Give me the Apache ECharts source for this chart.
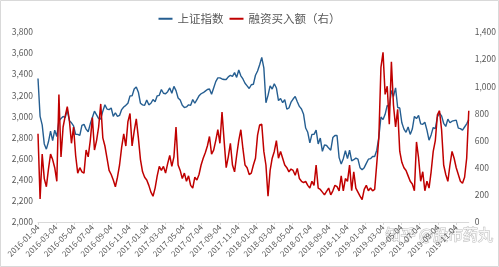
<!DOCTYPE html>
<html>
<head>
<meta charset="utf-8">
<script src="https://cdn.jsdelivr.net/npm/echarts@6/dist/echarts.min.js"></script>
<style>
  html, body { margin: 0; padding: 0; background: #fff; }
  #chart { width: 499px; height: 267px; }
</style>
</head>
<body>
<div id="chart"></div>
<script>
  // weekly samples, first week starts 2016-01-04
  var firstWeek = '2016-01-04';

  // 上证指数 (left axis)
  var shIndex = [
    3360, 3000, 2920, 2740, 2690, 2760, 2860, 2770, 2870, 2810,
    2960, 2980, 3000, 2990, 3060, 2960, 2940, 2910, 2830, 2830,
    2820, 2915, 2925, 2880, 2855, 2930, 2990, 3050, 3015, 2980,
    2975, 3050, 3110, 3070, 3065, 3080, 3000, 3035, 3000, 3010,
    3065, 3090, 3105, 3125, 3195, 3195, 3260, 3280, 3230, 3125,
    3110, 3105,
    3155, 3110, 3125, 3160, 3140, 3195, 3200, 3255, 3220, 3215,
    3235, 3270, 3220, 3285, 3245, 3175, 3155, 3105, 3085, 3090,
    3110, 3105, 3160, 3125, 3160, 3195, 3215, 3225, 3240, 3255,
    3260, 3210, 3270, 3330, 3365, 3365, 3355, 3350, 3350, 3375,
    3390, 3380, 3415, 3370, 3440, 3385, 3355, 3315, 3290, 3265,
    3300, 3305,
    3390, 3430, 3490, 3560, 3460, 3130, 3200, 3290, 3260, 3310,
    3270, 3150, 3170, 3130, 3160, 3070, 3080, 3135, 3165, 3190,
    3140, 3095, 3070, 3020, 2890, 2850, 2750, 2830, 2830, 2870,
    2740, 2795, 2670, 2730, 2725, 2700, 2680, 2800, 2820, 2820,
    2610, 2550, 2600, 2675, 2600, 2680, 2580, 2590, 2605, 2595,
    2515, 2495,
    2515, 2555, 2595, 2600, 2620, 2620, 2680, 2805, 2995, 2970,
    3020, 3105, 3090, 3245, 3190, 3270, 3085, 3080, 2940, 2880,
    2850, 2900, 2830, 2880, 3000, 2980, 3010, 2930, 2925, 2945,
    2870, 2775, 2825, 2895, 2885, 2995, 3030, 3005, 2935, 2905,
    2975, 2940, 2955, 2960, 2965, 2890, 2885, 2870, 2900, 2930,
    2970
  ];

  // 融资买入额 (right axis)
  var marginBuy = [
    650, 170, 500, 320, 260, 390, 500, 460, 400, 300,
    940, 480, 700, 780, 850, 750, 580, 700, 490, 360,
    400, 370, 360, 530, 480, 600, 770, 530, 600, 700,
    870, 620, 560, 470, 380, 350, 310, 260, 330, 420,
    550, 650, 560, 740, 800, 560, 670, 760, 620, 460,
    370, 330,
    310, 270, 220, 190, 250, 340, 410, 380, 410, 360,
    430, 490, 410, 480, 700, 420, 380, 320, 360, 300,
    340, 270, 250, 330, 310, 350, 420, 470, 510, 560,
    630, 500, 530, 600, 680, 580, 810, 600, 400, 480,
    580, 420, 370, 490, 600, 680, 540, 420, 400, 350,
    360, 420,
    470, 640, 715, 720, 520, 420, 190, 380, 470, 520,
    600, 470, 520, 470, 420, 400, 370, 390, 380, 345,
    395, 320, 300, 290, 300, 270, 250, 300, 270, 420,
    250, 240, 220, 200, 225, 250, 200, 230, 270, 260,
    230, 340, 230, 320, 300, 420, 230, 370, 250, 220,
    190, 165,
    240, 270, 230, 250, 230, 240, 430, 620, 1140, 1250,
    940, 1000, 720, 1180, 860, 700, 830, 520, 440, 400,
    380, 340, 300, 280, 230, 590, 470, 300, 370, 230,
    300, 250, 370, 520, 600, 790, 820, 680, 420, 350,
    300, 420, 520, 470, 400, 350, 300, 285, 330, 470,
    820
  ];

  var xTickLabels = [
    '2016-01-04', '2016-03-04', '2016-05-04', '2016-07-04', '2016-09-04', '2016-11-04',
    '2017-01-04', '2017-03-04', '2017-05-04', '2017-07-04', '2017-09-04', '2017-11-04',
    '2018-01-04', '2018-03-04', '2018-05-04', '2018-07-04', '2018-09-04', '2018-11-04',
    '2019-01-04', '2019-03-04', '2019-05-04', '2019-07-04', '2019-09-04', '2019-11-04'
  ];

  function ts(s) {
    var p = s.split('-');
    return Date.UTC(+p[0], +p[1] - 1, +p[2]);
  }

  var start = ts(firstWeek);
  var week = 7 * 24 * 3600 * 1000;
  var dates = shIndex.map(function (v, i) { return start + i * week; });

  var tickValues = xTickLabels.map(ts);
  var fmtNum = function (v) { return v.toLocaleString('en-US'); };

  var chart = echarts.init(document.getElementById('chart'));

  chart.setOption({
    animation: false,
    textStyle: { fontFamily: 'Noto Sans CJK SC' },
    legend: {
      top: 8,
      left: 'center',
      icon: 'rect',
      itemWidth: 14,
      itemHeight: 2,
      itemGap: 6,
      textStyle: { fontSize: 11.5, color: '#595959' },
      data: ['上证指数', '融资买入额（右）']
    },
    grid: { left: 38, right: 29, top: 32, bottom: 45 },
    xAxis: {
      type: 'value',
      min: start,
      max: dates[dates.length - 1],
      splitLine: { show: false },
      axisLine: { lineStyle: { color: '#d9d9d9' } },
      axisTick: { show: true, length: 3, customValues: tickValues, lineStyle: { color: '#d9d9d9' } },
      axisLabel: {
        customValues: tickValues,
        rotate: 45,
        fontSize: 8,
        color: '#595959',
        margin: 4,
        formatter: function (v) { return echarts.time.format(v, '{yyyy}-{MM}-{dd}', true); }
      }
    },
    yAxis: [
      {
        type: 'value', min: 2000, max: 3800, interval: 200,
        splitLine: { show: false },
        axisLine: { show: false }, axisTick: { show: false },
        axisLabel: { fontSize: 8.5, color: '#595959', margin: 5, formatter: fmtNum }
      },
      {
        type: 'value', min: 0, max: 1400, interval: 200,
        splitLine: { show: false },
        axisLine: { show: false }, axisTick: { show: false },
        axisLabel: { fontSize: 8.5, color: '#595959', margin: 6, formatter: fmtNum }
      }
    ],
    series: [
      {
        name: '上证指数',
        type: 'line',
        symbol: 'none',
        yAxisIndex: 0,
        lineStyle: { width: 1.4, color: '#255e91' },
        itemStyle: { color: '#255e91' },
        data: dates.map(function (d, i) { return [d, shIndex[i]]; })
      },
      {
        name: '融资买入额（右）',
        type: 'line',
        symbol: 'none',
        yAxisIndex: 1,
        z: 3,
        lineStyle: { width: 1.5, color: '#c00000' },
        itemStyle: { color: '#c00000' },
        data: dates.map(function (d, i) { return [d, marginBuy[i]]; })
      }
    ],
    graphic: [
      {
        type: 'rect',
        silent: true,
        shape: { x: 0.5, y: 0.5, width: 498, height: 266 },
        style: { fill: 'none', stroke: '#d9d9d9', lineWidth: 1 }
      },
      {
        type: 'text',
        silent: true,
        left: 385,
        top: 226,
        style: {
          text: '知乎 @股市药丸',
          fontSize: 15,
          fontFamily: 'Noto Sans CJK SC',
          fill: 'rgba(255,255,255,0.9)',
          stroke: 'rgba(140,140,140,0.6)',
          lineWidth: 1
        }
      }
    ]
  });
</script>
</body>
</html>
